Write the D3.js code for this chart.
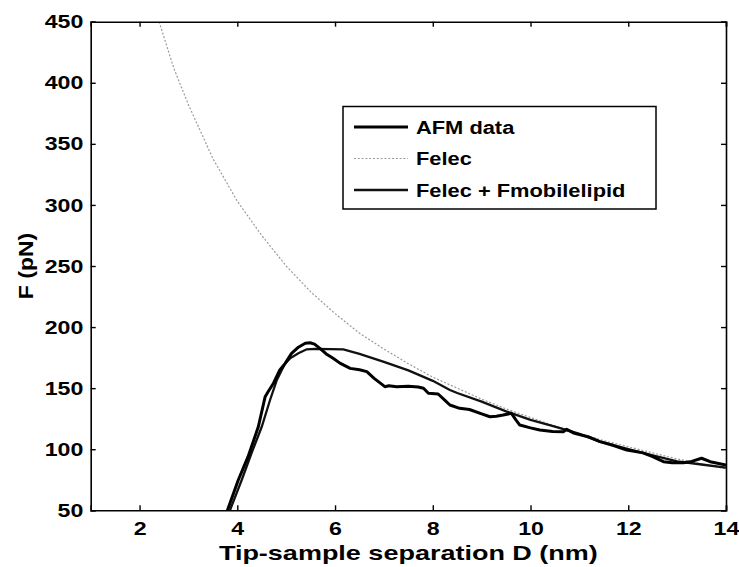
<!DOCTYPE html>
<html>
<head>
<meta charset="utf-8">
<script src="https://cdn.jsdelivr.net/npm/d3@7"></script>
<style>
  body { margin: 0; background: #fff; }
  svg text { font-family: "Liberation Sans", Arial, Helvetica, sans-serif; font-weight: bold; fill: #000; }
</style>
</head>
<body>
<div id="chart"></div>
<script>
// data: D (nm), F (pN)
var afmD = [3.78, 4.02, 4.22, 4.43, 4.57, 4.63, 4.74, 4.87, 4.98, 5.11, 5.25, 5.39, 5.49, 5.58, 5.69, 5.82, 5.96, 6.10, 6.31, 6.50, 6.65, 6.80, 7.02, 7.10, 7.26, 7.50, 7.70, 7.81, 7.91, 8.11, 8.25, 8.35, 8.55, 8.75, 9.00, 9.17, 9.30, 9.44, 9.61, 9.70, 9.78, 10.0, 10.19, 10.45, 10.67, 10.74, 10.9, 11.2, 11.42, 11.7, 11.97, 12.3, 12.5, 12.72, 12.9, 13.13, 13.3, 13.5, 13.7, 14.0];
var afmF = [48, 74.8, 93.9, 118.4, 143, 147.1, 154, 164.9, 170.3, 178.5, 183.5, 186.7, 187.2, 186, 182.6, 178, 174.4, 170.5, 166.2, 165, 163.5, 158, 151.2, 152, 151.2, 151.5, 151, 149.9, 145.8, 145.2, 140, 136.2, 133.5, 132.5, 129, 126.6, 127, 128, 129.4, 124, 119.8, 117.5, 115.7, 114.5, 114.3, 116.3, 113, 110, 106.2, 103, 99.4, 97, 94, 89.8, 89, 89, 90, 92.6, 89.5, 87];

var felecD = [2.4, 2.7, 3.0, 3.5, 4.0, 4.5, 5.0, 5.5, 6.0, 6.5, 7.0, 7.5, 8.0, 8.5, 9.0, 9.5, 10.0, 10.5, 11.0, 11.5, 12.0, 12.5, 13.0, 13.5, 14.0];
var felecF = [450, 412, 382, 338, 303, 275, 250, 229, 211, 195, 182, 170, 159, 150, 141, 133, 126, 119, 113, 107, 102, 97, 92, 88, 84];

var modelD = [3.83, 4.09, 4.29, 4.50, 4.67, 4.81, 4.91, 4.98, 5.08, 5.25, 5.42, 5.6, 5.9, 6.17, 6.5, 7.0, 7.5, 8.0, 8.35, 8.5, 9.0, 9.5, 10.0, 10.5, 11.0, 11.42, 12.0, 12.5, 13.0, 13.5, 14.0];
var modelF = [48, 74.8, 96.7, 118.4, 140.3, 156.7, 164.9, 170.3, 174.4, 178.5, 181.8, 182.2, 182, 181.8, 178, 171.5, 164.5, 156, 148.5, 146, 139, 131, 124, 118.5, 112.5, 106.2, 100, 95, 90, 87.5, 85];

var xTicks = [2, 4, 6, 8, 10, 12, 14];
var yTicks = [50, 100, 150, 200, 250, 300, 350, 400, 450];
var legendLabels = ["AFM data", "Felec", "Felec + Fmobilelipid"];

var width = 739, height = 567;
var margin = {top: 21.7, right: 13, bottom: 56.7, left: 90.7};
// the scanned figure's text is wider than it is tall
var tickStretch = 1.22, titleStretch = 1.35, legendStretch = 1.15;

var svg = d3.select('#chart').append('svg')
  .attr('width', width)
  .attr('height', height);

var x = d3.scaleLinear().domain([1, 14]).range([margin.left, width - margin.right]);
var y = d3.scaleLinear().domain([50, 450]).range([height - margin.bottom, margin.top]);

svg.append('clipPath').attr('id', 'plotclip')
  .append('rect')
  .attr('x', x(1)).attr('y', y(450))
  .attr('width', x(14) - x(1)).attr('height', y(50) - y(450));

function pairs(xs, ys) {
  return xs.map(function(d, i) { return [d, ys[i]]; });
}

var line = d3.line()
  .x(function(d) { return x(d[0]); })
  .y(function(d) { return y(d[1]); });

var plot = svg.append('g').attr('clip-path', 'url(#plotclip)');

plot.append('path')
  .attr('d', line(pairs(felecD, felecF)))
  .attr('fill', 'none')
  .attr('stroke', '#9a9a9a')
  .attr('stroke-width', 1.2)
  .attr('stroke-dasharray', '2,1.8');

plot.append('path')
  .attr('d', line(pairs(modelD, modelF)))
  .attr('fill', 'none')
  .attr('stroke', '#111')
  .attr('stroke-width', 2.3);

plot.append('path')
  .attr('d', line(pairs(afmD, afmF)))
  .attr('fill', 'none')
  .attr('stroke', '#000')
  .attr('stroke-width', 3)
  .attr('stroke-linejoin', 'round');

// axes, matlab style: ticks inward on all four sides
var fs = 19;

var xAxis = svg.append('g')
  .attr('transform', 'translate(0,' + y(50) + ')')
  .call(d3.axisBottom(x).tickValues(xTicks).tickSize(-5).tickPadding(11).tickFormat(d3.format('d')));
xAxis.selectAll('text')
  .attr('font-size', fs)
  .attr('transform', 'scale(' + tickStretch + ',1)');

svg.append('g')
  .attr('transform', 'translate(0,' + y(450) + ')')
  .call(d3.axisTop(x).tickValues(xTicks).tickSize(-5).tickFormat(''));

var yAxis = svg.append('g')
  .attr('transform', 'translate(' + x(1) + ',0)')
  .call(d3.axisLeft(y).tickValues(yTicks).tickSize(-5).tickPadding(7.4 / tickStretch).tickFormat(d3.format('d')));
yAxis.selectAll('text')
  .attr('font-size', fs)
  .attr('transform', 'scale(' + tickStretch + ',1)');

svg.append('g')
  .attr('transform', 'translate(' + x(14) + ',0)')
  .call(d3.axisRight(y).tickValues(yTicks).tickSize(-5).tickFormat(''));

svg.selectAll('.domain').attr('stroke', '#000').attr('stroke-width', 1.6);
svg.selectAll('.tick line').attr('stroke', '#000').attr('stroke-width', 1.4);

// axis titles
svg.append('text')
  .attr('transform', 'translate(' + ((x(1) + x(14)) / 2) + ',560) scale(' + titleStretch + ',1)')
  .attr('text-anchor', 'middle')
  .attr('font-size', 20)
  .text('Tip-sample separation D (nm)');

svg.append('text')
  .attr('transform', 'translate(33,' + ((y(50) + y(450)) / 2) + ') rotate(-90) scale(1.15,1)')
  .attr('text-anchor', 'middle')
  .attr('font-size', 20)
  .text('F (pN)');

// legend
var legend = svg.append('g');
legend.append('rect')
  .attr('x', 343).attr('y', 106.5)
  .attr('width', 313).attr('height', 102.5)
  .attr('fill', '#fff')
  .attr('stroke', '#000')
  .attr('stroke-width', 1.5);

var legendStyles = [
  {stroke: '#000', width: 3, dash: null},
  {stroke: '#9a9a9a', width: 1.2, dash: '2,1.8'},
  {stroke: '#111', width: 2.3, dash: null}
];
var rowY = [127, 158.5, 190];

legendLabels.forEach(function(label, i) {
  legend.append('line')
    .attr('x1', 354).attr('x2', 408)
    .attr('y1', rowY[i]).attr('y2', rowY[i])
    .attr('stroke', legendStyles[i].stroke)
    .attr('stroke-width', legendStyles[i].width)
    .attr('stroke-dasharray', legendStyles[i].dash);
  legend.append('text')
    .attr('transform', 'translate(416,' + rowY[i] + ') scale(' + legendStretch + ',1)')
    .attr('dy', '0.36em')
    .attr('font-size', fs)
    .text(label);
});
</script>
</body>
</html>
